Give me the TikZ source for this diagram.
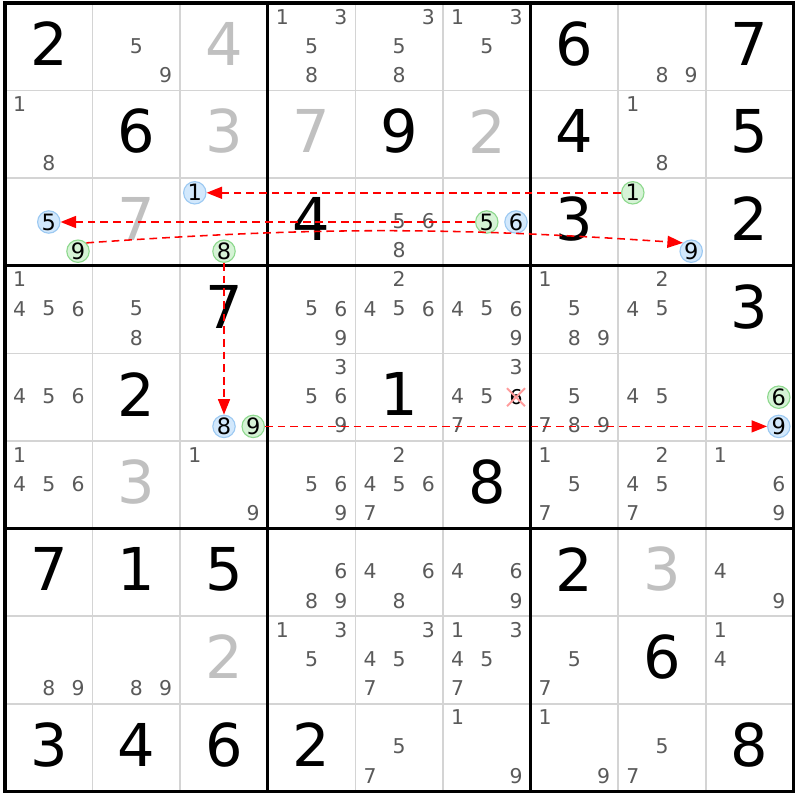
\documentclass[tikz,border=0pt]{standalone}
\usepackage{fontspec}
\setmainfont{DejaVu Sans}
\usetikzlibrary{arrows.meta,shapes.misc,bending}
\definecolor{thingrid}{HTML}{D4D4D4}
\definecolor{candgray}{HTML}{5A5A5A}
\definecolor{solvedgray}{HTML}{C0C0C0}
\definecolor{hlbluefill}{HTML}{D2E8FC}
\definecolor{hlblueline}{HTML}{9CC9F2}
\definecolor{hlgreenfill}{HTML}{D6F3D6}
\definecolor{hlgreenline}{HTML}{8ED98E}
\definecolor{elimred}{HTML}{FF9C9C}
\definecolor{linkred}{HTML}{FF0000}

\begin{document}
\begin{tikzpicture}[x=2.19cm, y=-2.19cm,
    given/.style={inner sep=0pt, yshift=0.075cm, font=\fontsize{42}{42}\selectfont},
    solved/.style={given, text=solvedgray},
    cand/.style={inner sep=0pt, yshift=0.025cm, text=candgray, font=\fontsize{14.5}{14.5}\selectfont},
    hl/.style={circle, inner sep=0pt, minimum size=0.56cm, line width=0.8pt, font=\fontsize{16}{16}\selectfont},
    hlblue/.style={hl, draw=hlblueline, fill=hlbluefill},
    hlgreen/.style={hl, draw=hlgreenline, fill=hlgreenfill},
    elim/.style={cross out, draw=elimred, line width=1.4pt, inner sep=0pt, minimum size=0.4cm, font=\fontsize{14.5}{14.5}\selectfont},
    link/.style={draw=linkred, line width=1.1pt, dash pattern=on 5.5pt off 3.5pt, -{Triangle[length=11pt,width=8.5pt]}}]
    \useasboundingbox[fill=white] (-0.0571,-0.0342) rectangle (9.0753,9.0982);
    % grid
    \foreach \i in {1,2,4,5,7,8} {
        \draw[thingrid, line width=1.2pt] (\i,0) -- (\i,9);
        \draw[thingrid, line width=1.2pt] (0,\i) -- (9,\i);
    }
    \foreach \i in {3,6} {
        \draw[line width=2.2pt] (\i,0) -- (\i,9);
        \draw[line width=2.2pt] (0,\i) -- (9,\i);
    }
    \draw[line width=2.2pt] (0,0) rectangle (9,9);
    % givens and solved cells
    \foreach \r/\c/\d in {1/1/2, 1/7/6, 1/9/7, 2/2/6, 2/5/9, 2/7/4, 2/9/5, 3/4/4, 3/7/3, 3/9/2,
        4/3/7, 4/9/3, 5/2/2, 5/5/1, 6/6/8, 7/1/7, 7/2/1, 7/3/5, 7/7/2, 8/8/6,
        9/1/3, 9/2/4, 9/3/6, 9/4/2, 9/9/8}
        \node[given] (g\r\c) at (\c-0.5,\r-0.5) {\d};
    \foreach \r/\c/\d in {1/3/4, 2/3/3, 2/4/7, 2/6/2, 3/2/7, 6/2/3, 7/8/3, 8/3/2}
        \node[solved] (s\r\c) at (\c-0.5,\r-0.5) {\d};
    % candidates
    \foreach \r/\c/\ds in {1/2/{5,9}, 1/4/{1,3,5,8}, 1/5/{3,5,8}, 1/6/{1,3,5}, 1/8/{8,9},
        2/1/{1,8}, 2/8/{1,8}, 3/5/{5,6,8},
        4/1/{1,4,5,6}, 4/2/{5,8}, 4/4/{5,6,9}, 4/5/{2,4,5,6}, 4/6/{4,5,6,9}, 4/7/{1,5,8,9}, 4/8/{2,4,5},
        5/1/{4,5,6}, 5/4/{3,5,6,9}, 5/6/{3,4,5,7}, 5/7/{5,7,8,9}, 5/8/{4,5},
        6/1/{1,4,5,6}, 6/3/{1,9}, 6/4/{5,6,9}, 6/5/{2,4,5,6,7}, 6/7/{1,5,7}, 6/8/{2,4,5,7}, 6/9/{1,6,9},
        7/4/{6,8,9}, 7/5/{4,6,8}, 7/6/{4,6,9}, 7/9/{4,9},
        8/1/{8,9}, 8/2/{8,9}, 8/4/{1,3,5}, 8/5/{3,4,5,7}, 8/6/{1,3,4,5,7}, 8/7/{5,7}, 8/9/{1,4},
        9/5/{5,7}, 9/6/{1,9}, 9/7/{1,9}, 9/8/{5,7}} {
        \foreach \d in \ds {
            \pgfmathsetmacro\px{\c-1+(2*mod(\d-1,3)+1)/6}
            \pgfmathsetmacro\py{\r-1+(2*floor((\d-1)/3)+1)/6}
            \node[cand] (c\r\c-\d) at (\px,\py) {\d};
        }
    }
    % highlighted candidates
    \foreach \r/\c/\d/\hs in {3/1/5/hlblue, 3/1/9/hlgreen, 3/3/1/hlblue, 3/3/8/hlgreen,
        3/6/5/hlgreen, 3/6/6/hlblue, 3/8/1/hlgreen, 3/8/9/hlblue,
        5/3/8/hlblue, 5/3/9/hlgreen, 5/9/6/hlgreen, 5/9/9/hlblue} {
        \pgfmathsetmacro\px{\c-1+(2*mod(\d-1,3)+1)/6}
        \pgfmathsetmacro\py{\r-1+(2*floor((\d-1)/3)+1)/6}
        \node[\hs] (h\r\c-\d) at (\px,\py) {\d};
    }
    \node[elim] (e56-6) at (5+5/6,4.5) {6};
    % links
    \draw[link] (h38-1) -- (h33-1);
    \draw[link] (h36-5) -- (h31-5);
    \draw[link] (h31-9.north east) to[bend left=4] (h38-9.north west);
    \draw[link] (h33-8) -- (h53-8);
    \draw[link] (h53-9) -- (h59-9);
\end{tikzpicture}
\end{document}
